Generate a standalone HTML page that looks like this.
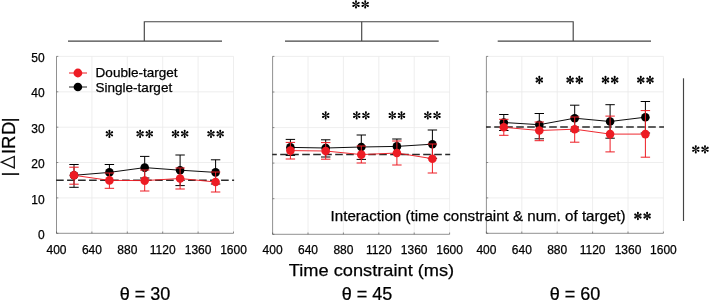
<!DOCTYPE html>
<html><head><meta charset="utf-8"><title>chart</title>
<style>
html,body{margin:0;padding:0;background:#fff;}
svg{display:block;}
text{font-family:"Liberation Sans",sans-serif;fill:#000;stroke:#000;stroke-width:0.25px;}
svg{will-change:transform;}
.st{font-family:"Liberation Serif",serif;font-size:19px;fill:#111;}
</style></head><body>
<svg width="709" height="300" viewBox="0 0 709 300">
<rect width="709" height="300" fill="#fff"/>
<defs><g id="ast" fill="#000"><path d="M-0.2,0L-0.96,-2.85A1.0,1.0 0 1 1 0.96,-2.85L0.2,0Z" transform="rotate(0)"/><path d="M-0.2,0L-0.96,-2.85A1.0,1.0 0 1 1 0.96,-2.85L0.2,0Z" transform="rotate(60)"/><path d="M-0.2,0L-0.96,-2.85A1.0,1.0 0 1 1 0.96,-2.85L0.2,0Z" transform="rotate(120)"/><path d="M-0.2,0L-0.96,-2.85A1.0,1.0 0 1 1 0.96,-2.85L0.2,0Z" transform="rotate(180)"/><path d="M-0.2,0L-0.96,-2.85A1.0,1.0 0 1 1 0.96,-2.85L0.2,0Z" transform="rotate(240)"/><path d="M-0.2,0L-0.96,-2.85A1.0,1.0 0 1 1 0.96,-2.85L0.2,0Z" transform="rotate(300)"/><circle r="0.45"/></g></defs>
<g stroke="#eaeaea" stroke-width="0.8" fill="none"><line x1="91.9" y1="56.4" x2="91.9" y2="233.3"/><line x1="127.3" y1="56.4" x2="127.3" y2="233.3"/><line x1="162.7" y1="56.4" x2="162.7" y2="233.3"/><line x1="198.1" y1="56.4" x2="198.1" y2="233.3"/><line x1="233.5" y1="56.4" x2="233.5" y2="233.3"/><line x1="56.5" y1="197.9" x2="233.5" y2="197.9"/><line x1="56.5" y1="162.5" x2="233.5" y2="162.5"/><line x1="56.5" y1="127.2" x2="233.5" y2="127.2"/><line x1="56.5" y1="91.8" x2="233.5" y2="91.8"/><line x1="56.5" y1="56.4" x2="233.5" y2="56.4"/></g>
<g stroke="#555" stroke-width="0.65" fill="none"><line x1="56.5" y1="56.4" x2="56.5" y2="233.3"/><line x1="56.5" y1="233.3" x2="233.5" y2="233.3"/><line x1="56.5" y1="233.3" x2="56.5" y2="231.5"/><line x1="91.9" y1="233.3" x2="91.9" y2="231.5"/><line x1="127.3" y1="233.3" x2="127.3" y2="231.5"/><line x1="162.7" y1="233.3" x2="162.7" y2="231.5"/><line x1="198.1" y1="233.3" x2="198.1" y2="231.5"/><line x1="233.5" y1="233.3" x2="233.5" y2="231.5"/><line x1="56.5" y1="233.3" x2="58.3" y2="233.3"/><line x1="56.5" y1="197.9" x2="58.3" y2="197.9"/><line x1="56.5" y1="162.5" x2="58.3" y2="162.5"/><line x1="56.5" y1="127.2" x2="58.3" y2="127.2"/><line x1="56.5" y1="91.8" x2="58.3" y2="91.8"/><line x1="56.5" y1="56.4" x2="58.3" y2="56.4"/></g>
<g font-size="12" text-anchor="middle"><text x="56.5" y="254.0">400</text><text x="91.9" y="254.0">640</text><text x="127.3" y="254.0">880</text><text x="162.7" y="254.0">1120</text><text x="198.1" y="254.0">1360</text><text x="233.5" y="254.0">1600</text></g>
<line x1="56.1" y1="180.2" x2="234.1" y2="180.2" stroke="#2a2a2a" stroke-width="1.5" stroke-dasharray="7.6 3.4" stroke-dashoffset="0"/>
<g stroke="#000" stroke-width="0.95" fill="none"><polyline points="74.0,175.3 109.4,172.4 144.7,167.6 180.1,170.2 215.6,172.4"/><path d="M74.0,164.5V187.3M69.3,164.5H78.7M69.3,187.3H78.7" stroke-width="1"/><path d="M109.4,164.5V180.5M104.7,164.5H114.10000000000001M104.7,180.5H114.10000000000001" stroke-width="1"/><path d="M144.7,156.4V178.0M140.0,156.4H149.39999999999998M140.0,178.0H149.39999999999998" stroke-width="1"/><path d="M180.1,155.0V185.6M175.4,155.0H184.79999999999998M175.4,185.6H184.79999999999998" stroke-width="1"/><path d="M215.6,159.8V184.0M210.9,159.8H220.29999999999998M210.9,184.0H220.29999999999998" stroke-width="1"/></g><g fill="#000"><circle cx="74.0" cy="175.3" r="4.3"/><circle cx="109.4" cy="172.4" r="4.3"/><circle cx="144.7" cy="167.6" r="4.3"/><circle cx="180.1" cy="170.2" r="4.3"/><circle cx="215.6" cy="172.4" r="4.3"/></g>
<g stroke="#ed1c24" stroke-width="0.95" fill="none"><polyline points="74.0,175.3 109.4,180.4 144.7,180.6 180.1,178.5 215.6,182.0"/><path d="M74.0,167.2V184.2M69.3,167.2H78.7M69.3,184.2H78.7" stroke-width="1"/><path d="M109.4,173.0V188.3M104.7,173.0H114.10000000000001M104.7,188.3H114.10000000000001" stroke-width="1"/><path d="M144.7,170.0V191.0M140.0,170.0H149.39999999999998M140.0,191.0H149.39999999999998" stroke-width="1"/><path d="M180.1,168.0V189.0M175.4,168.0H184.79999999999998M175.4,189.0H184.79999999999998" stroke-width="1"/><path d="M215.6,172.0V192.0M210.9,172.0H220.29999999999998M210.9,192.0H220.29999999999998" stroke-width="1"/></g><g fill="#ed1c24"><circle cx="74.0" cy="175.3" r="4.3"/><circle cx="109.4" cy="180.4" r="4.3"/><circle cx="144.7" cy="180.6" r="4.3"/><circle cx="180.1" cy="178.5" r="4.3"/><circle cx="215.6" cy="182.0" r="4.3"/></g>
<use href="#ast" x="109.4" y="133.8"/>
<use href="#ast" x="140.1" y="133.8"/><use href="#ast" x="149.3" y="133.8"/>
<use href="#ast" x="175.5" y="133.8"/><use href="#ast" x="184.7" y="133.8"/>
<use href="#ast" x="211.0" y="133.8"/><use href="#ast" x="220.2" y="133.8"/>
<g stroke="#eaeaea" stroke-width="0.8" fill="none"><line x1="308.0" y1="56.4" x2="308.0" y2="234.3"/><line x1="343.4" y1="56.4" x2="343.4" y2="234.3"/><line x1="378.8" y1="56.4" x2="378.8" y2="234.3"/><line x1="414.2" y1="56.4" x2="414.2" y2="234.3"/><line x1="449.6" y1="56.4" x2="449.6" y2="234.3"/><line x1="272.6" y1="198.7" x2="449.6" y2="198.7"/><line x1="272.6" y1="163.1" x2="449.6" y2="163.1"/><line x1="272.6" y1="127.6" x2="449.6" y2="127.6"/><line x1="272.6" y1="92.0" x2="449.6" y2="92.0"/><line x1="272.6" y1="56.4" x2="449.6" y2="56.4"/></g>
<g stroke="#555" stroke-width="0.65" fill="none"><line x1="272.6" y1="56.4" x2="272.6" y2="234.3"/><line x1="272.6" y1="234.3" x2="449.6" y2="234.3"/><line x1="272.6" y1="234.3" x2="272.6" y2="232.5"/><line x1="308.0" y1="234.3" x2="308.0" y2="232.5"/><line x1="343.4" y1="234.3" x2="343.4" y2="232.5"/><line x1="378.8" y1="234.3" x2="378.8" y2="232.5"/><line x1="414.2" y1="234.3" x2="414.2" y2="232.5"/><line x1="449.6" y1="234.3" x2="449.6" y2="232.5"/><line x1="272.6" y1="234.3" x2="274.40000000000003" y2="234.3"/><line x1="272.6" y1="198.7" x2="274.40000000000003" y2="198.7"/><line x1="272.6" y1="163.1" x2="274.40000000000003" y2="163.1"/><line x1="272.6" y1="127.6" x2="274.40000000000003" y2="127.6"/><line x1="272.6" y1="92.0" x2="274.40000000000003" y2="92.0"/><line x1="272.6" y1="56.4" x2="274.40000000000003" y2="56.4"/></g>
<g font-size="12" text-anchor="middle"><text x="272.6" y="254.0">400</text><text x="308.0" y="254.0">640</text><text x="343.4" y="254.0">880</text><text x="378.8" y="254.0">1120</text><text x="414.2" y="254.0">1360</text><text x="449.6" y="254.0">1600</text></g>
<line x1="272.2" y1="154.4" x2="450.2" y2="154.4" stroke="#2a2a2a" stroke-width="1.5" stroke-dasharray="7.6 3.4" stroke-dashoffset="3.0"/>
<g stroke="#000" stroke-width="0.95" fill="none"><polyline points="290.4,147.4 325.7,148.0 361.3,147.0 396.9,146.4 432.4,144.2"/><path d="M290.4,139.4V155.4M285.7,139.4H295.09999999999997M285.7,155.4H295.09999999999997" stroke-width="1"/><path d="M325.7,139.8V157.0M321.0,139.8H330.4M321.0,157.0H330.4" stroke-width="1"/><path d="M361.3,135.0V159.4M356.6,135.0H366.0M356.6,159.4H366.0" stroke-width="1"/><path d="M396.9,139.0V154.0M392.2,139.0H401.59999999999997M392.2,154.0H401.59999999999997" stroke-width="1"/><path d="M432.4,130.0V158.4M427.7,130.0H437.09999999999997M427.7,158.4H437.09999999999997" stroke-width="1"/></g><g fill="#000"><circle cx="290.4" cy="147.4" r="4.3"/><circle cx="325.7" cy="148.0" r="4.3"/><circle cx="361.3" cy="147.0" r="4.3"/><circle cx="396.9" cy="146.4" r="4.3"/><circle cx="432.4" cy="144.2" r="4.3"/></g>
<g stroke="#ed1c24" stroke-width="0.95" fill="none"><polyline points="290.4,150.6 325.7,151.0 361.3,154.6 396.9,153.0 432.4,158.7"/><path d="M290.4,142.4V159.0M285.7,142.4H295.09999999999997M285.7,159.0H295.09999999999997" stroke-width="1"/><path d="M325.7,142.6V159.2M321.0,142.6H330.4M321.0,159.2H330.4" stroke-width="1"/><path d="M361.3,146.0V163.0M356.6,146.0H366.0M356.6,163.0H366.0" stroke-width="1"/><path d="M396.9,141.0V165.0M392.2,141.0H401.59999999999997M392.2,165.0H401.59999999999997" stroke-width="1"/><path d="M432.4,144.0V173.0M427.7,144.0H437.09999999999997M427.7,173.0H437.09999999999997" stroke-width="1"/></g><g fill="#ed1c24"><circle cx="290.4" cy="150.6" r="4.3"/><circle cx="325.7" cy="151.0" r="4.3"/><circle cx="361.3" cy="154.6" r="4.3"/><circle cx="396.9" cy="153.0" r="4.3"/><circle cx="432.4" cy="158.7" r="4.3"/></g>
<use href="#ast" x="325.7" y="115.4"/>
<use href="#ast" x="356.7" y="115.4"/><use href="#ast" x="365.9" y="115.4"/>
<use href="#ast" x="392.3" y="115.4"/><use href="#ast" x="401.5" y="115.4"/>
<use href="#ast" x="427.8" y="115.4"/><use href="#ast" x="437.0" y="115.4"/>
<g stroke="#eaeaea" stroke-width="0.8" fill="none"><line x1="521.8" y1="56.4" x2="521.8" y2="233.3"/><line x1="557.2" y1="56.4" x2="557.2" y2="233.3"/><line x1="592.6" y1="56.4" x2="592.6" y2="233.3"/><line x1="628.0" y1="56.4" x2="628.0" y2="233.3"/><line x1="663.4" y1="56.4" x2="663.4" y2="233.3"/><line x1="486.4" y1="197.9" x2="663.4" y2="197.9"/><line x1="486.4" y1="162.5" x2="663.4" y2="162.5"/><line x1="486.4" y1="127.2" x2="663.4" y2="127.2"/><line x1="486.4" y1="91.8" x2="663.4" y2="91.8"/><line x1="486.4" y1="56.4" x2="663.4" y2="56.4"/></g>
<g stroke="#555" stroke-width="0.65" fill="none"><line x1="486.4" y1="56.4" x2="486.4" y2="233.3"/><line x1="486.4" y1="233.3" x2="663.4" y2="233.3"/><line x1="486.4" y1="233.3" x2="486.4" y2="231.5"/><line x1="521.8" y1="233.3" x2="521.8" y2="231.5"/><line x1="557.2" y1="233.3" x2="557.2" y2="231.5"/><line x1="592.6" y1="233.3" x2="592.6" y2="231.5"/><line x1="628.0" y1="233.3" x2="628.0" y2="231.5"/><line x1="663.4" y1="233.3" x2="663.4" y2="231.5"/><line x1="486.4" y1="233.3" x2="488.2" y2="233.3"/><line x1="486.4" y1="197.9" x2="488.2" y2="197.9"/><line x1="486.4" y1="162.5" x2="488.2" y2="162.5"/><line x1="486.4" y1="127.2" x2="488.2" y2="127.2"/><line x1="486.4" y1="91.8" x2="488.2" y2="91.8"/><line x1="486.4" y1="56.4" x2="488.2" y2="56.4"/></g>
<g font-size="12" text-anchor="middle"><text x="486.4" y="254.0">400</text><text x="521.8" y="254.0">640</text><text x="557.2" y="254.0">880</text><text x="592.6" y="254.0">1120</text><text x="628.0" y="254.0">1360</text><text x="663.4" y="254.0">1600</text></g>
<line x1="486.0" y1="127.0" x2="664.0" y2="127.0" stroke="#2a2a2a" stroke-width="1.5" stroke-dasharray="7.6 3.4" stroke-dashoffset="2.8"/>
<g stroke="#000" stroke-width="0.95" fill="none"><polyline points="503.8,122.5 539.3,124.7 574.7,118.2 610.1,121.5 645.4,117.2"/><path d="M503.8,114.5V130.5M499.1,114.5H508.5M499.1,130.5H508.5" stroke-width="1"/><path d="M539.3,113.5V138.8M534.5999999999999,113.5H544.0M534.5999999999999,138.8H544.0" stroke-width="1"/><path d="M574.7,105.2V131.0M570.0,105.2H579.4000000000001M570.0,131.0H579.4000000000001" stroke-width="1"/><path d="M610.1,104.7V138.2M605.4,104.7H614.8000000000001M605.4,138.2H614.8000000000001" stroke-width="1"/><path d="M645.4,101.5V133.0M640.6999999999999,101.5H650.1M640.6999999999999,133.0H650.1" stroke-width="1"/></g><g fill="#000"><circle cx="503.8" cy="122.5" r="4.3"/><circle cx="539.3" cy="124.7" r="4.3"/><circle cx="574.7" cy="118.2" r="4.3"/><circle cx="610.1" cy="121.5" r="4.3"/><circle cx="645.4" cy="117.2" r="4.3"/></g>
<g stroke="#ed1c24" stroke-width="0.95" fill="none"><polyline points="503.8,127.3 539.3,130.5 574.7,129.2 610.1,134.1 645.4,134.1"/><path d="M503.8,119.3V135.3M499.1,119.3H508.5M499.1,135.3H508.5" stroke-width="1"/><path d="M539.3,122.0V140.7M534.5999999999999,122.0H544.0M534.5999999999999,140.7H544.0" stroke-width="1"/><path d="M574.7,117.0V142.2M570.0,117.0H579.4000000000001M570.0,142.2H579.4000000000001" stroke-width="1"/><path d="M610.1,116.1V151.9M605.4,116.1H614.8000000000001M605.4,151.9H614.8000000000001" stroke-width="1"/><path d="M645.4,110.6V157.2M640.6999999999999,110.6H650.1M640.6999999999999,157.2H650.1" stroke-width="1"/></g><g fill="#ed1c24"><circle cx="503.8" cy="127.3" r="4.3"/><circle cx="539.3" cy="130.5" r="4.3"/><circle cx="574.7" cy="129.2" r="4.3"/><circle cx="610.1" cy="134.1" r="4.3"/><circle cx="645.4" cy="134.1" r="4.3"/></g>
<use href="#ast" x="539.3" y="80.0"/>
<use href="#ast" x="570.1" y="80.0"/><use href="#ast" x="579.3" y="80.0"/>
<use href="#ast" x="605.5" y="80.0"/><use href="#ast" x="614.7" y="80.0"/>
<use href="#ast" x="640.8" y="80.0"/><use href="#ast" x="650.0" y="80.0"/>
<g font-size="12" text-anchor="end"><text x="44.6" y="239.4">0</text><text x="44.6" y="203.8">10</text><text x="44.6" y="168.3">20</text><text x="44.6" y="132.7">30</text><text x="44.6" y="97.2">40</text><text x="44.6" y="61.6">50</text></g>
<text transform="translate(15.0,176.5) rotate(-90)" font-size="18.5" x="0.1 22.5 27.5 41.6 54.3">|IRD|</text>
<polygon points="14.3,156.5 14.3,167.9 1.3,162.2" fill="none" stroke="#111" stroke-width="1.3"/>
<text x="288.8" y="275.7" font-size="17.4" textLength="165.4" lengthAdjust="spacingAndGlyphs">Time constraint (ms)</text>
<text x="144.9" y="299.6" font-size="18" text-anchor="middle">&#952; = 30</text>
<text x="366.9" y="299.6" font-size="18" text-anchor="middle">&#952; = 45</text>
<text x="575" y="299.6" font-size="18" text-anchor="middle">&#952; = 60</text>
<line x1="69" y1="73" x2="87" y2="73" stroke="#ed1c24" stroke-width="1"/><circle cx="77.9" cy="73" r="4.4" fill="#ed1c24"/><line x1="69" y1="87" x2="87" y2="87" stroke="#222" stroke-width="1"/><circle cx="77.9" cy="87" r="4.3" fill="#000"/>
<text x="95.6" y="77.4" font-size="13.5" textLength="82" lengthAdjust="spacingAndGlyphs">Double-target</text><text x="95.6" y="92.0" font-size="13.5">Single-target</text>
<text x="330.6" y="220.5" font-size="14.5" textLength="295" lengthAdjust="spacingAndGlyphs">Interaction (time constraint &amp; num. of target)</text>
<use href="#ast" x="637.9" y="216.0"/><use href="#ast" x="647.1" y="216.0"/>
<g stroke="#444" stroke-width="1.15" fill="none"><path d="M144.3,41.1V21.7H573.2V41.1"/><path d="M361.7,21.7V41.1"/><path d="M68,41.1H222"/><path d="M285,41.1H438.7"/><path d="M497.7,41.1H651"/><path d="M683.5,78.3V221"/></g>
<use href="#ast" x="356.0" y="4.4"/><use href="#ast" x="365.2" y="4.4"/>
<use href="#ast" x="695.8" y="149.3"/><use href="#ast" x="705.0" y="149.3"/>
</svg>
</body></html>
